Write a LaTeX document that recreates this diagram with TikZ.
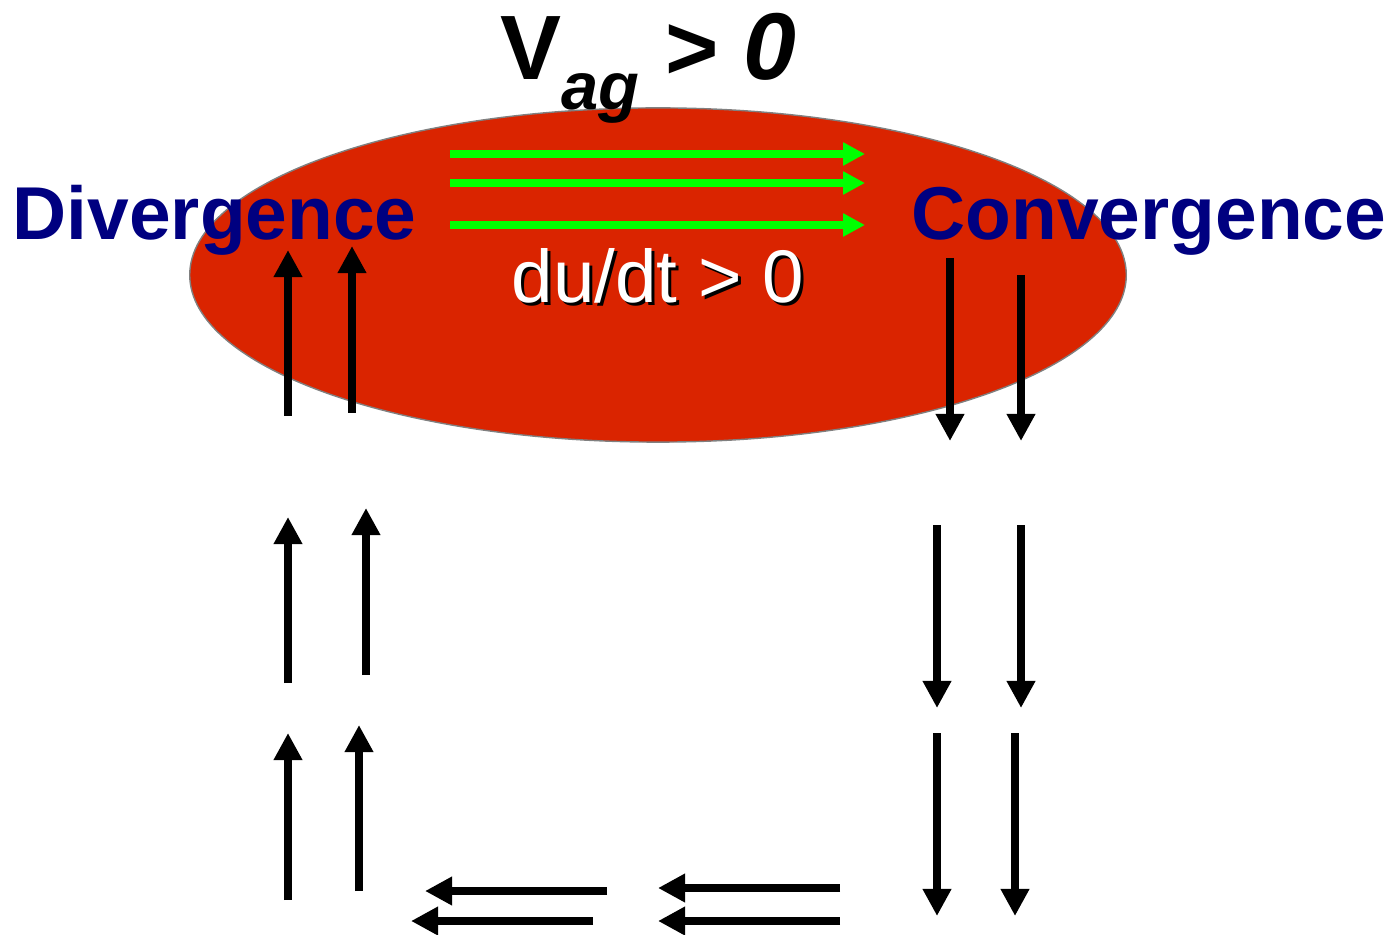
\documentclass[tikz,border=0pt]{standalone}
\usepackage{fontspec}
\setmainfont{Liberation Sans}
\usetikzlibrary{arrows.meta}
\definecolor{ellred}{RGB}{218,36,0}
\definecolor{navytext}{RGB}{0,0,128}
\definecolor{flowgreen}{RGB}{0,255,0}

\begin{document}
\begin{tikzpicture}[x=0.01cm, y=-0.01cm,
    wind/.style={line width=0.082cm, -{Triangle[length=0.27cm, width=0.27cm]}},
    jet/.style={draw=flowgreen, line width=0.08cm, -{Triangle[length=0.22cm, width=0.22cm]}},
    label/.style={font=\fontsize{21.3pt}{21.3pt}\selectfont\bfseries, text=navytext, inner sep=0pt}]
    \useasboundingbox (0,0) rectangle (1395,934);
    
    % Luftmasse
    \draw[fill=ellred, draw=gray, line width=0.4pt] (658,275) ellipse (4.68cm and 1.67cm);
    
    \foreach \y in {154,183,225} {
        \draw[jet] (450,\y) -- (865,\y);
    }
    
    \node[inner sep=0pt, anchor=base, text=black] (shadow) at (661,306) {\fontsize{21.2pt}{21.2pt}\selectfont du/dt > 0};
    \node[inner sep=0pt, anchor=base, text=white] (tend) at (658,303) {\fontsize{21.2pt}{21.2pt}\selectfont du/dt > 0};
    
    \node[inner sep=0pt, anchor=base west] (title) at (500,80) {\bfseries\fontsize{26pt}{26pt}\selectfont V\raisebox{-8.5pt}{\fontsize{19pt}{19pt}\selectfont\itshape ag} > \textit{\fontsize{27pt}{27pt}\selectfont 0}};
    
    \node[label, anchor=base west] (div) at (12,240) {Divergence};
    \node[label, anchor=base west] (conv) at (911,240) {Convergence};
    
    % aufsteigend links
    \foreach \x/\ya/\yb in {288/416/250, 352/413/246, 288/683/517, 366/675/508, 288/900/733, 359/891/725} {
        \draw[wind] (\x,\ya) -- (\x,\yb);
    }
    % absteigend rechts
    \foreach \x/\ya/\yb in {950/258/441, 1021/275/441, 937/525/708, 1021/525/708, 937/733/916, 1015/733/916} {
        \draw[wind] (\x,\ya) -- (\x,\yb);
    }
    % Rueckstroemung unten
    \foreach \xa/\xb/\y in {607/425/891, 593/411/921, 840/658/888, 840/658/921} {
        \draw[wind] (\xa,\y) -- (\xb,\y);
    }
\end{tikzpicture}
\end{document}
